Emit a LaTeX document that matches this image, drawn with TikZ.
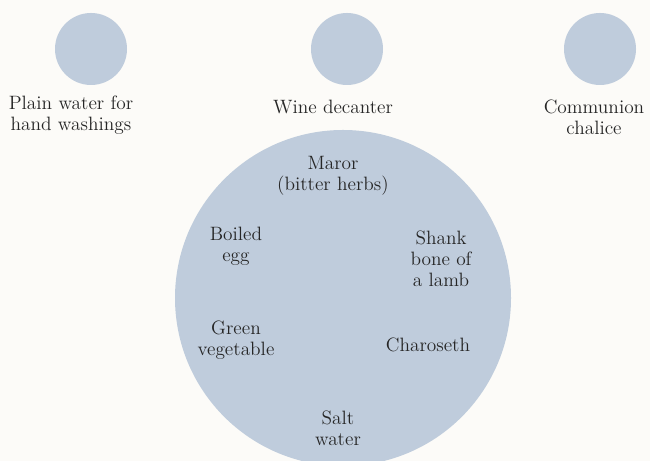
\documentclass[tikz,border=0pt]{standalone}
\usepackage{tikz}
\usetikzlibrary{positioning}
\definecolor{sdblue}{HTML}{BFCCDC}
\definecolor{sdpaper}{HTML}{FCFBF8}
\definecolor{sdink}{HTML}{262626}

\begin{document}
\begin{tikzpicture}[
      font=\fontsize{11}{12}\selectfont,
      dish/.style={circle, fill=sdblue, inner sep=0pt, minimum size=1.44cm},
      plate/.style={circle, fill=sdblue, inner sep=0pt, minimum size=6.72cm},
      lbl/.style={align=center, text=sdink, inner sep=1pt}
    ]
    \fill[sdpaper] (0,0) rectangle (13,9.22);
    \useasboundingbox (0,0) rectangle (13,9.22);

    % top row
    \node[dish] (water) at (1.82,8.24) {};
    \node[dish] (wine)  at (6.94,8.24) {};
    \node[dish] (cup)   at (12.0,8.24) {};
    \node[lbl] (waterL) at (1.42,6.92) {Plain water for\\hand washings};
    \node[lbl] (wineL)  at (6.66,7.08) {Wine decanter};
    \node[lbl] (cupL)   at (11.88,6.88) {Communion\\chalice};

    % seder plate
    \node[plate] (plate) at (6.86,3.26) {};
    \node[lbl] (maror)     at (6.66,5.71) {Maror\\(bitter herbs)};
    \node[lbl] (egg)       at (4.72,4.29) {Boiled\\egg};
    \node[lbl] (shank)     at (8.82,4.04) {Shank\\bone of\\a lamb};
    \node[lbl] (greens)    at (4.72,2.42) {Green\\vegetable};
    \node[lbl] (charoseth) at (8.56,2.32) {Charoseth};
    \node[lbl] (salt)      at (6.76,0.65) {Salt\\water};
  \end{tikzpicture}
\end{document}
